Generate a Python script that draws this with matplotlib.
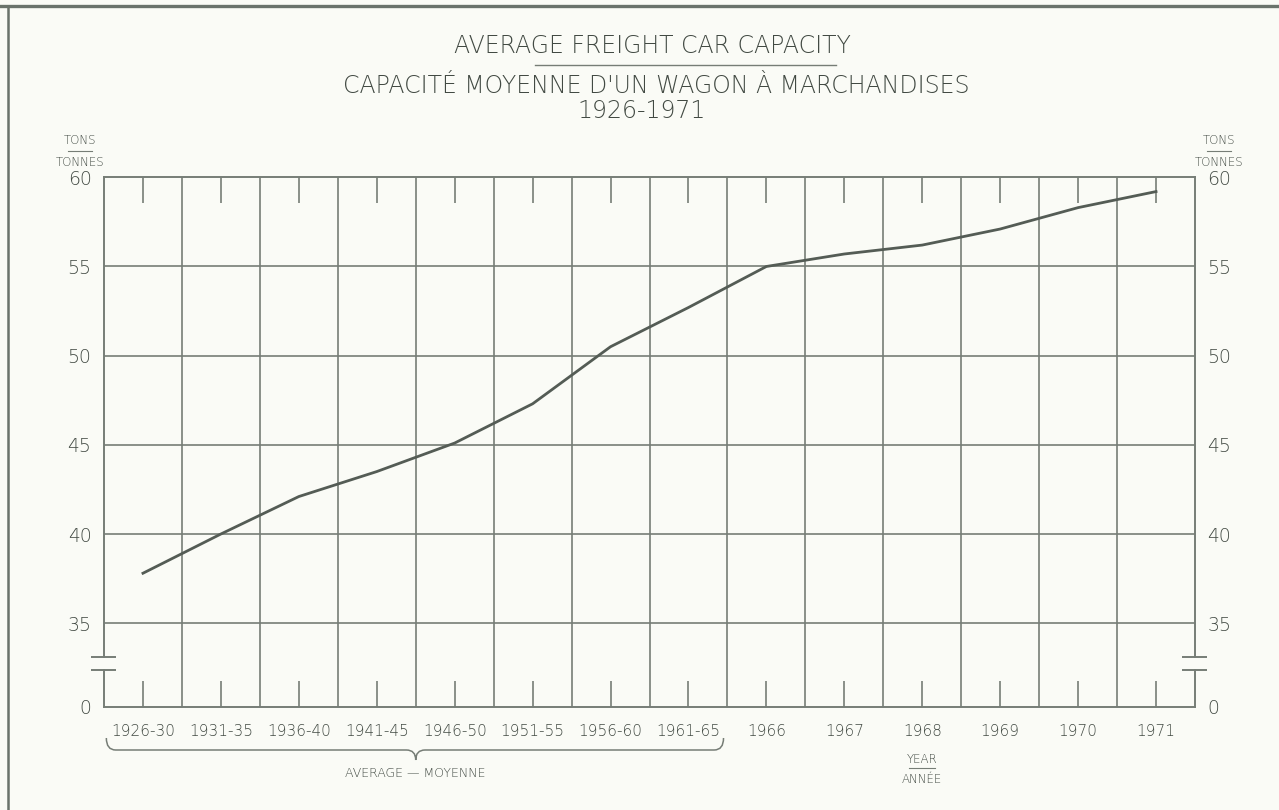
import numpy as np
import matplotlib.pyplot as plt
from matplotlib.lines import Line2D
from matplotlib.path import Path
from matplotlib.patches import PathPatch
from matplotlib.transforms import blended_transform_factory

# Data
periods = ["1926-30", "1931-35", "1936-40", "1941-45", "1946-50", "1951-55",
           "1956-60", "1961-65", "1966", "1967", "1968", "1969", "1970", "1971"]
capacity = [37.8, 40.0, 42.1, 43.5, 45.1, 47.3, 50.5, 52.7,
            55.0, 55.7, 56.2, 57.1, 58.3, 59.2]
y_ticks = [35, 40, 45, 50, 55, 60]
y_floor = 30.3          # bottom of the broken axis, shown as "0"
n_avg = 8               # the first 8 categories are 5-year averages

W, H = 1279, 810
ink = '#767d76'
line_ink = '#545c55'
paper = '#fafbf6'
txt = '#424a43'

plt.rcParams['font.family'] = ['DejaVu Sans']
plt.rcParams['font.weight'] = 'light'

fig = plt.figure(figsize=(W / 100, H / 100), dpi=100, facecolor=paper)
ax = fig.add_axes([104 / W, 1 - 707 / H, 1091 / W, 529.7 / H])
ax.set_facecolor(paper)

x = np.arange(len(periods))
ax.set_xlim(-0.5, len(periods) - 0.5)
ax.set_ylim(y_floor, 60)

# grid
for gx in x[:-1] + 0.5:
    ax.axvline(gx, color=ink, lw=1.2, zorder=1)
for gy in y_ticks[:-1]:
    ax.axhline(gy, color=ink, lw=1.2, zorder=1)

# spines: top/bottom normal, left/right broken
for s in ['left', 'right']:
    ax.spines[s].set_visible(False)
for s in ['top', 'bottom']:
    ax.spines[s].set_color(ink)
    ax.spines[s].set_linewidth(1.4)

brk_lo, brk_hi = 32.35, 33.13
for side in [-0.5, len(periods) - 0.5]:
    ax.plot([side, side], [y_floor, brk_lo], color=ink, lw=1.4, clip_on=False)
    ax.plot([side, side], [brk_hi, 60], color=ink, lw=1.4, clip_on=False)
    ax.hlines([brk_lo, brk_hi], side - 0.17, side + 0.16, color=ink, lw=1.4,
              clip_on=False)

# the data line
ax.plot(x, capacity, color=line_ink, lw=2.0, zorder=3)

# ticks
ax.set_xticks(x)
ax.set_xticklabels(periods)
ax.tick_params(axis='x', direction='in', length=19, width=1.2, color=ink,
               top=True, labelsize=11, labelcolor=txt, pad=12)
ax.set_yticks([y_floor] + y_ticks)
ax.set_yticklabels(["0"] + [str(v) for v in y_ticks])
ax.tick_params(axis='y', length=0, labelsize=13.5, labelcolor=txt, pad=9,
               left=True, right=True, labelleft=True, labelright=True)


def fy(py):
    return 1 - py / H


# titles
fig.text(652 / W, fy(46), "AVERAGE FREIGHT CAR CAPACITY", ha='center', va='center',
         fontsize=17, color=txt)
fig.add_artist(Line2D([535 / W, 836 / W], [fy(65), fy(65)], color=ink, lw=1.0))
fig.text(656 / W, fy(86), "CAPACITÉ MOYENNE D'UN WAGON À MARCHANDISES",
         ha='center', va='center', fontsize=17, color=txt)
fig.text(642 / W, fy(111), "1926-1971", ha='center', va='center',
         fontsize=17, color=txt)

# unit labels
for cx in [80, 1219]:
    fig.text(cx / W, fy(140), "TONS", ha='center', va='center', fontsize=8.5, color=txt)
    fig.add_artist(Line2D([(cx - 12) / W, (cx + 12) / W], [fy(151), fy(151)],
                          color=ink, lw=0.8))
    fig.text(cx / W, fy(162), "TONNES", ha='center', va='center', fontsize=8.5, color=txt)

# brace under the averaged periods
bt = blended_transform_factory(ax.transData, fig.transFigure)
x0, x1, tip = -0.47, n_avg - 0.55, (n_avg - 1) / 2
verts = [(x0, fy(738)), (x0, fy(750)), (x0 + 0.12, fy(750)),
         (tip - 0.12, fy(750)), (tip, fy(750)), (tip, fy(760)),
         (tip, fy(750)), (tip + 0.12, fy(750)),
         (x1 - 0.12, fy(750)), (x1, fy(750)), (x1, fy(738))]
codes = [Path.MOVETO, Path.CURVE3, Path.CURVE3,
         Path.LINETO, Path.CURVE3, Path.CURVE3,
         Path.CURVE3, Path.CURVE3,
         Path.LINETO, Path.CURVE3, Path.CURVE3]
fig.add_artist(PathPatch(Path(verts, codes), transform=bt, fill=False,
                         edgecolor=ink, lw=1.1))
fig.text(tip, fy(773), "AVERAGE — MOYENNE", transform=bt, ha='center',
         va='center', fontsize=9, color=txt)

# year label
yr = periods.index("1968")
fig.text(yr, fy(759), "YEAR", transform=bt, ha='center', va='center',
         fontsize=8.5, color=txt)
fig.add_artist(Line2D([yr - 0.17, yr + 0.17], [fy(768), fy(768)], transform=bt,
                      color=ink, lw=0.8))
fig.text(yr, fy(779), "ANNÉE", transform=bt, ha='center', va='center',
         fontsize=8.5, color=txt)

# page frame
fig.add_artist(Line2D([0, 1], [fy(6), fy(6)], color='#6a736b', lw=2.4))
fig.add_artist(Line2D([8 / W, 8 / W], [0, fy(6)], color='#6a736b', lw=1.8))

fig.savefig("out.png", dpi=100, facecolor=paper)
